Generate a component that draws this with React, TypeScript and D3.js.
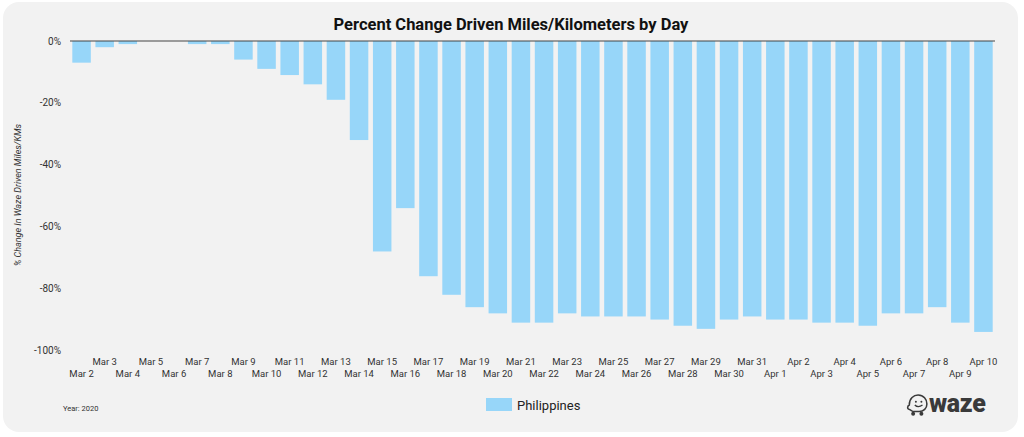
import { useEffect, useRef } from "react";
import * as d3 from "d3";

const days = [
  "Mar 2", "Mar 3", "Mar 4", "Mar 5", "Mar 6", "Mar 7", "Mar 8", "Mar 9", "Mar 10",
  "Mar 11", "Mar 12", "Mar 13", "Mar 14", "Mar 15", "Mar 16", "Mar 17", "Mar 18",
  "Mar 19", "Mar 20", "Mar 21", "Mar 22", "Mar 23", "Mar 24", "Mar 25", "Mar 26",
  "Mar 27", "Mar 28", "Mar 29", "Mar 30", "Mar 31", "Apr 1", "Apr 2", "Apr 3",
  "Apr 4", "Apr 5", "Apr 6", "Apr 7", "Apr 8", "Apr 9", "Apr 10",
];

const philippines = [
  -7, -2, -1, 0, 0, -1, -1, -6, -9, -11, -14, -19, -32, -68, -54, -76, -82,
  -86, -88, -91, -91, -88, -89, -89, -89, -90, -92, -93, -90, -89, -90, -90,
  -91, -91, -92, -88, -88, -86, -91, -94,
];

const yTicks = [0, -20, -40, -60, -80, -100];

const seriesName = "Philippines";
const yearNote = "Year: 2020";

const DrivenMilesChart = () => {
  const svgRef = useRef<SVGSVGElement>(null);

  useEffect(() => {
    if (!svgRef.current) return;
    const svg = d3.select(svgRef.current);
    svg.selectAll("*").remove();

    const W = 1024;
    const H = 437;
    const left = 70;
    const right = 995;
    const top = 41;
    const bottom = 350.5;
    const barColor = "#97d6f9";
    const font = "Roboto, 'Noto Sans', sans-serif";

    svg.attr("width", W).attr("height", H);

    // card background
    svg
      .append("rect")
      .attr("x", 3)
      .attr("y", 2)
      .attr("width", 1015)
      .attr("height", 430)
      .attr("rx", 16)
      .attr("fill", "#f2f2f2");

    const data = days.map((d, i) => ({ day: d, value: philippines[i] }));

    const x = d3
      .scaleBand()
      .domain(days)
      .range([left, right])
      .paddingInner(0.2)
      .paddingOuter(0.1);

    const y = d3.scaleLinear().domain([0, -100]).range([top, bottom]);

    // title
    svg
      .append("text")
      .attr("x", 511)
      .attr("y", 30)
      .attr("text-anchor", "middle")
      .style("font-family", font)
      .style("font-size", "16.5px")
      .style("font-weight", "bold")
      .style("fill", "#111")
      .text("Percent Change Driven Miles/Kilometers by Day");

    // bars
    svg
      .append("g")
      .selectAll("rect")
      .data(data)
      .join("rect")
      .attr("x", (d) => x(d.day)!)
      .attr("y", y(0))
      .attr("width", x.bandwidth())
      .attr("height", (d) => y(d.value) - y(0))
      .attr("fill", barColor);

    // zero line
    svg
      .append("line")
      .attr("x1", left)
      .attr("x2", right)
      .attr("y1", y(0))
      .attr("y2", y(0))
      .attr("stroke", "#444")
      .attr("stroke-width", 1);

    // y axis labels
    svg
      .append("g")
      .selectAll("text")
      .data(yTicks)
      .join("text")
      .attr("x", 61)
      .attr("y", (d) => y(d))
      .attr("dy", "0.35em")
      .attr("text-anchor", "end")
      .style("font-family", font)
      .style("font-size", "10px")
      .style("fill", "#333")
      .text((d) => `${d}%`);

    // y axis title
    svg
      .append("text")
      .attr("transform", `translate(21,195) rotate(-90)`)
      .attr("text-anchor", "middle")
      .style("font-family", font)
      .style("font-size", "9px")
      .style("font-style", "italic")
      .style("fill", "#333")
      .text("% Change In Waze Driven Miles/KMs");

    // x labels, staggered in two rows
    svg
      .append("g")
      .selectAll("text")
      .data(days)
      .join("text")
      .attr("x", (d) => x(d)! + x.bandwidth() / 2)
      .attr("y", (d, i) => (i % 2 === 0 ? 377 : 365))
      .attr("text-anchor", "middle")
      .style("font-family", font)
      .style("font-size", "9.5px")
      .style("fill", "#333")
      .text((d) => d);

    // year note
    svg
      .append("text")
      .attr("x", 63)
      .attr("y", 411)
      .style("font-family", font)
      .style("font-size", "7.5px")
      .style("fill", "#333")
      .text(yearNote);

    // legend
    svg
      .append("rect")
      .attr("x", 486)
      .attr("y", 398)
      .attr("width", 26)
      .attr("height", 13)
      .attr("fill", barColor);
    svg
      .append("text")
      .attr("x", 517)
      .attr("y", 409.5)
      .style("font-family", font)
      .style("font-size", "13px")
      .style("fill", "#222")
      .text(seriesName);

    // waze logo
    const logo = svg.append("g").attr("transform", "translate(906,394) scale(1.1)");
    logo
      .append("path")
      .attr(
        "d",
        "M3,14 C1,14 1,11 3,10 C3,4 7,1 11,1 C16,1 19,5 19,9 C19,13 16,16 12,16 L7,16 C6,16 5,15 3,14 Z"
      )
      .attr("fill", "none")
      .attr("stroke", "#3a3a3a")
      .attr("stroke-width", 1.4);
    logo.append("circle").attr("cx", 6.5).attr("cy", 18).attr("r", 1.8).attr("fill", "#3a3a3a");
    logo.append("circle").attr("cx", 14).attr("cy", 18).attr("r", 1.8).attr("fill", "#3a3a3a");
    logo.append("circle").attr("cx", 9).attr("cy", 7).attr("r", 0.9).attr("fill", "#3a3a3a");
    logo.append("circle").attr("cx", 14).attr("cy", 7).attr("r", 0.9).attr("fill", "#3a3a3a");
    logo
      .append("path")
      .attr("d", "M8,10 Q11,13 15,10")
      .attr("fill", "none")
      .attr("stroke", "#3a3a3a")
      .attr("stroke-width", 1.2);
    svg
      .append("text")
      .attr("x", 929)
      .attr("y", 412)
      .style("font-family", font)
      .style("font-size", "25px")
      .style("font-weight", "900")
      .style("fill", "#3a3a3a")
      .style("letter-spacing", "-0.3px")
      .text("waze");
  }, []);

  return (
    <svg
      ref={svgRef}
      style={{ position: "absolute", left: 0, top: 0, display: "block" }}
    ></svg>
  );
};

export default function App() {
  return <DrivenMilesChart />;
}
